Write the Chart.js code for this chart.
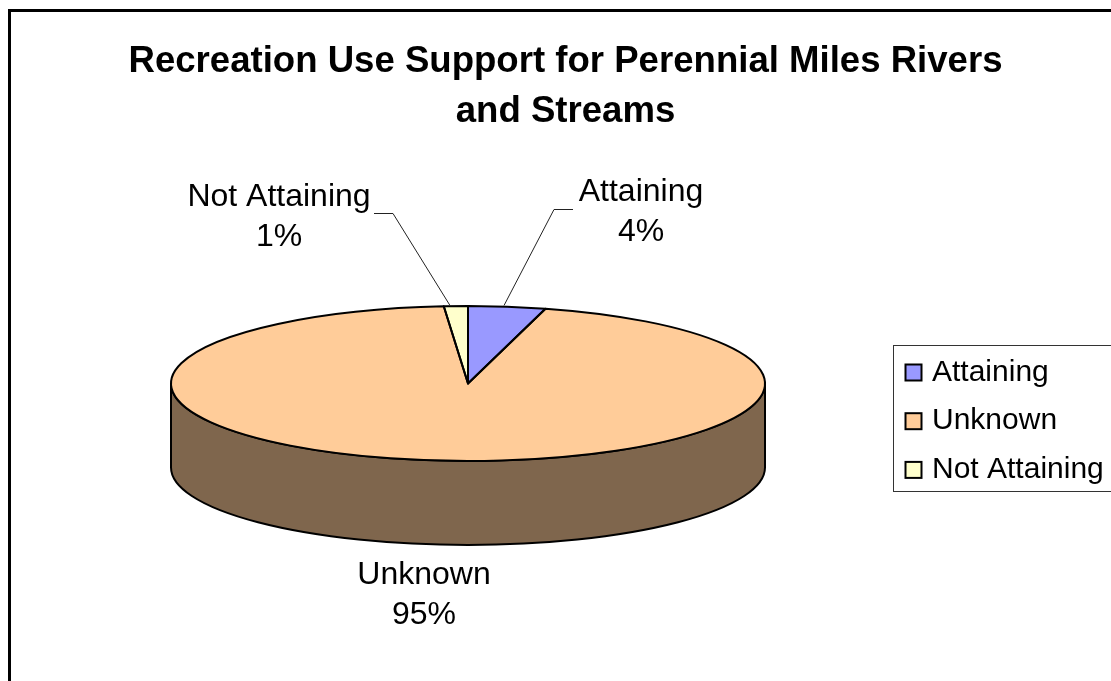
<!DOCTYPE html>
<html>
<head>
<meta charset="utf-8">
<title>Recreation Use Support</title>
<script src="https://cdn.jsdelivr.net/npm/chart.js@4"></script>
<style>
    html, body { margin: 0; padding: 0; background: #fff; overflow: hidden; }
    canvas { display: block; }
</style>
</head>
<body>
<canvas id="pieCanvas" width="1111" height="681"></canvas>
<script>
var titleLines = ["Recreation Use Support for Perennial Miles Rivers", "and Streams"];
var categories = ["Attaining", "Unknown", "Not Attaining"];
var milesShare = [4.2, 94.5, 1.3];
var sliceColors = ["#9999FF", "#FFCC99", "#FFFFCC"];
var wallColors = ["#4D4D80", "#7F664D", "#808066"];

var FONT = '"Liberation Sans", Arial, sans-serif';

// the tilted disc, in canvas pixels
var disc = { x: 468, y: 383.5, rx: 297, ry: 77.5, depth: 84 };

function percentText(i) {
    var total = milesShare.reduce(function (a, b) { return a + b; }, 0);
    return Math.round(milesShare[i] / total * 100) + "%";
}

// Squash the library's round pie into the disc and add the side wall
var tiltPlugin = {
    id: "tilt",
    beforeDatasetsDraw: function (chart) {
        var ctx = chart.ctx;
        var arcs = chart.getDatasetMeta(0).data;
        var r = arcs[0].outerRadius;

        // wall first, only the front half of the rim can be seen
        arcs.forEach(function (arc, i) {
            var a = Math.max(arc.startAngle, 0);
            var b = Math.min(arc.endAngle, Math.PI);
            if (b <= a) return;
            ctx.save();
            ctx.beginPath();
            ctx.ellipse(disc.x, disc.y, disc.rx, disc.ry, 0, a, b);
            ctx.ellipse(disc.x, disc.y + disc.depth, disc.rx, disc.ry, 0, b, a, true);
            ctx.closePath();
            ctx.fillStyle = wallColors[i];
            ctx.fill();
            ctx.lineWidth = 2;
            ctx.strokeStyle = "#000";
            ctx.lineJoin = "round";
            ctx.stroke();
            ctx.restore();
        });

        ctx.save();
        ctx.translate(disc.x, disc.y);
        ctx.scale(disc.rx / r, disc.ry / r);
        ctx.translate(-arcs[0].x, -arcs[0].y);
    },
    afterDatasetsDraw: function (chart) {
        var ctx = chart.ctx;
        ctx.restore();
        chart.getDatasetMeta(0).data.forEach(function (arc) {
            ctx.save();
            ctx.beginPath();
            ctx.moveTo(disc.x, disc.y);
            ctx.ellipse(disc.x, disc.y, disc.rx, disc.ry, 0, arc.startAngle, arc.endAngle);
            ctx.closePath();
            ctx.lineWidth = 2;
            ctx.strokeStyle = "#000";
            ctx.lineJoin = "round";
            ctx.stroke();
            ctx.restore();
        });
    }
};

// Outer frame, data labels with leader lines, legend box
var decorPlugin = {
    id: "decor",
    afterDraw: function (chart) {
        var ctx = chart.ctx;
        ctx.save();

        ctx.strokeStyle = "#000";
        ctx.lineWidth = 3;
        ctx.beginPath();
        ctx.moveTo(9.5, 681);
        ctx.lineTo(9.5, 10.5);
        ctx.lineTo(1111, 10.5);
        ctx.stroke();

        function leader(pts) {
            ctx.beginPath();
            ctx.moveTo(pts[0][0], pts[0][1]);
            for (var k = 1; k < pts.length; k++) ctx.lineTo(pts[k][0], pts[k][1]);
            ctx.lineWidth = 1;
            ctx.strokeStyle = "#222";
            ctx.stroke();
        }
        leader([[504, 305.5], [554, 209.5], [573, 209.5]]);
        leader([[450, 305.5], [393, 213.5], [374, 213.5]]);

        function dataLabel(i, x, y) {
            ctx.fillStyle = "#000";
            ctx.font = "32px " + FONT;
            ctx.textAlign = "center";
            ctx.textBaseline = "alphabetic";
            ctx.fillText(categories[i], x, y);
            ctx.fillText(percentText(i), x, y + 40);
        }
        dataLabel(0, 641, 201);
        dataLabel(1, 424, 584);
        dataLabel(2, 279, 206);

        // legend, runs off the right edge like the original
        ctx.fillStyle = "#fff";
        ctx.fillRect(893.5, 345.5, 220, 146);
        ctx.strokeStyle = "#333";
        ctx.lineWidth = 1;
        ctx.strokeRect(893.5, 345.5, 220, 146);
        categories.forEach(function (name, i) {
            var y = 364.5 + i * 48.7;
            ctx.fillStyle = sliceColors[i];
            ctx.fillRect(905.5, y, 16, 16);
            ctx.strokeStyle = "#000";
            ctx.lineWidth = 2;
            ctx.strokeRect(905.5, y, 16, 16);
            ctx.fillStyle = "#000";
            ctx.font = "30px " + FONT;
            ctx.textAlign = "left";
            ctx.textBaseline = "alphabetic";
            ctx.fillText(name, 932, y + 16);
        });
        ctx.restore();
    }
};

window.onload = function () {
    var ctx = document.getElementById("pieCanvas").getContext("2d");
    new Chart(ctx, {
        type: "pie",
        data: {
            labels: categories,
            datasets: [{
                data: milesShare,
                backgroundColor: sliceColors,
                borderWidth: 0
            }]
        },
        options: {
            responsive: false,
            animation: false,
            layout: { padding: { left: 20, top: 37 } },
            plugins: {
                legend: { display: false },
                tooltip: { enabled: false },
                title: {
                    display: true,
                    text: titleLines,
                    color: "#000",
                    align: "center",
                    padding: { top: 0, bottom: 10 },
                    font: { family: FONT, size: 36.6, weight: "bold", lineHeight: 1.366 }
                }
            }
        },
        plugins: [tiltPlugin, decorPlugin]
    });
};
</script>
</body>
</html>
